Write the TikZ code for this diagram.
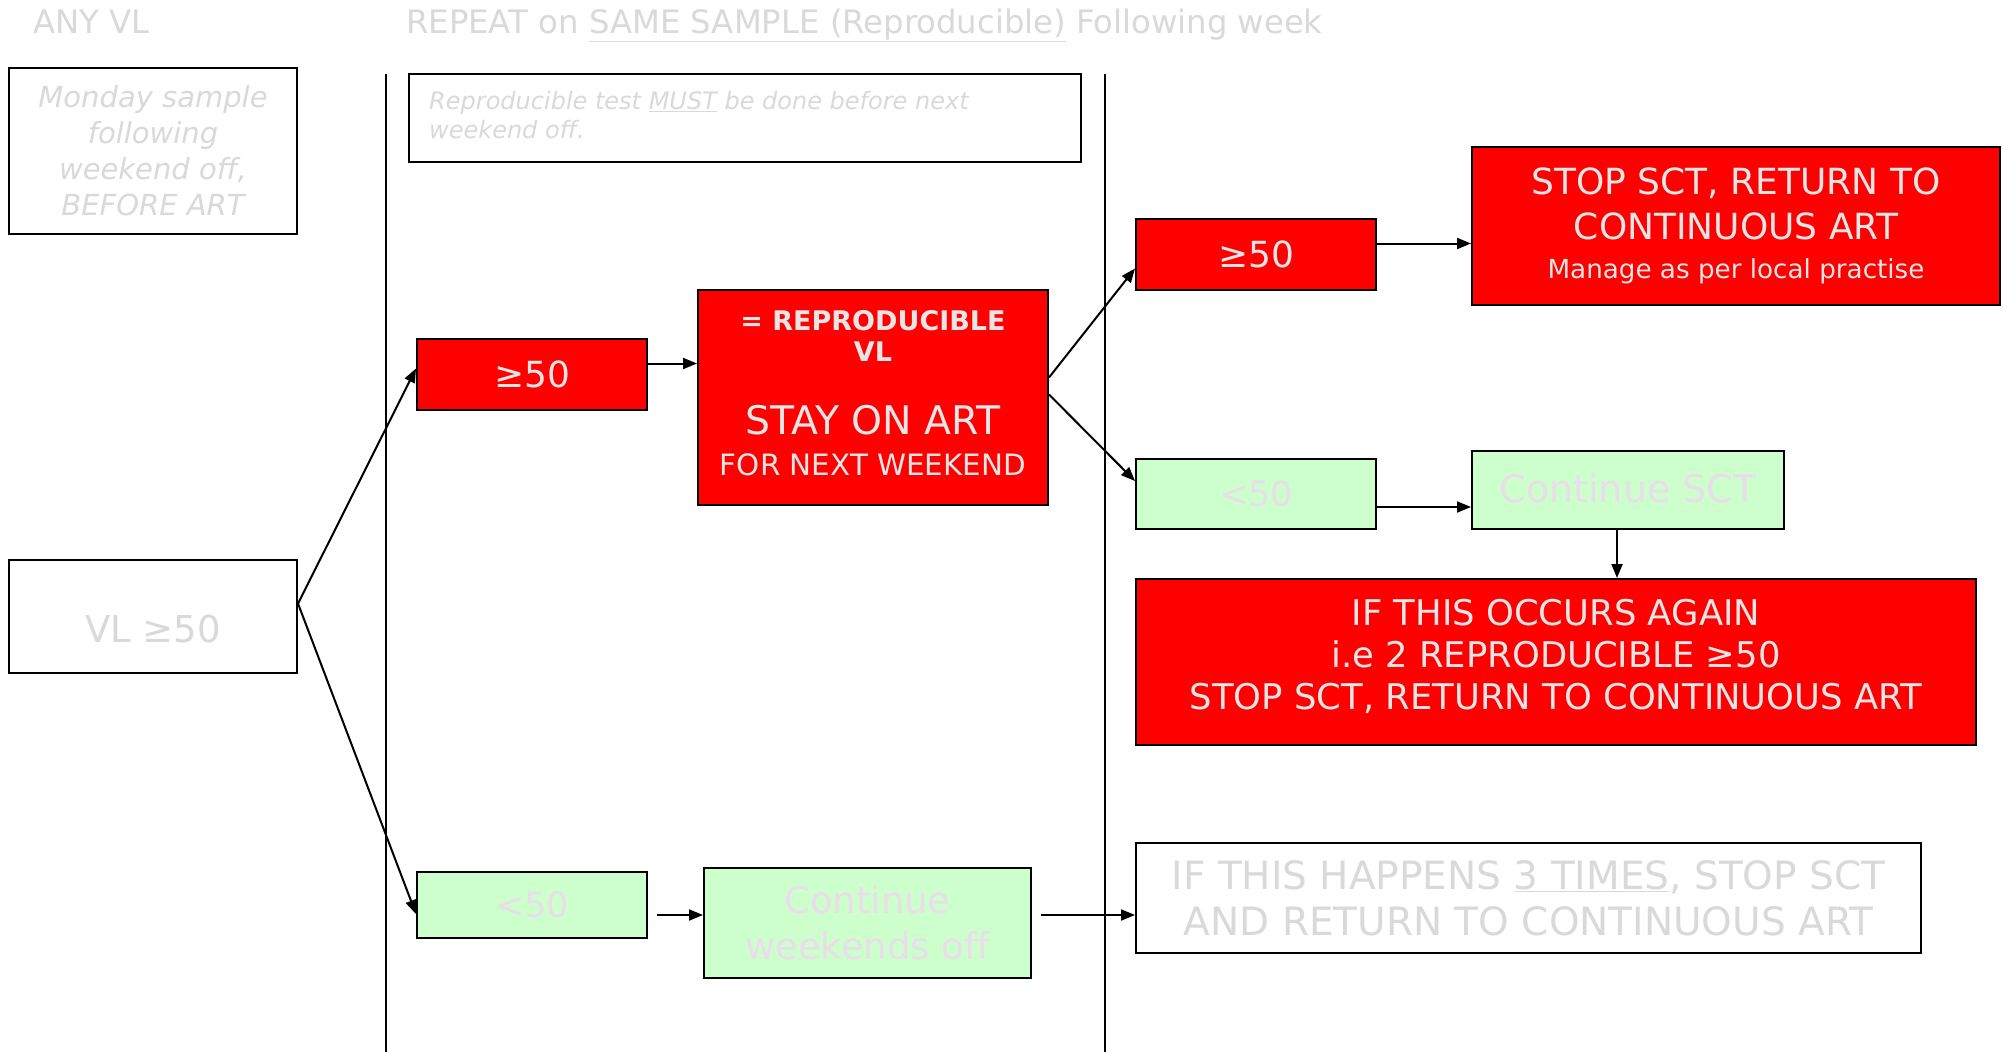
\documentclass[tikz,border=0pt]{standalone}
\usepackage{fontspec}
\setmainfont{DejaVu Sans}
\usetikzlibrary{arrows.meta,calc}
\definecolor{boxred}{HTML}{FF0000}
\definecolor{boxgreen}{HTML}{CCFFCC}
\definecolor{txtgrey}{HTML}{D9D9D9}
\definecolor{txtred}{HTML}{E6E6E6}
\definecolor{txtgreen}{HTML}{EADCEA}
\newcommand{\fs}[2]{\fontsize{#1}{#2}\selectfont}
\tikzset{
  base/.style={draw=black, line width=2pt, inner sep=0pt, align=center},
  whitebox/.style={base, fill=white, text=txtgrey},
  redbox/.style={base, fill=boxred, text=txtred},
  greenbox/.style={base, fill=boxgreen, text=txtgreen},
  conn/.style={line width=2pt, -{Triangle[length=14pt,width=11pt]}},
  divider/.style={line width=2pt},
  heading/.style={text=txtgrey, inner sep=0pt, anchor=base west, font=\fs{32.3}{38}},
}
\begin{document}
\begin{tikzpicture}[x=1pt,y=-1pt]
\useasboundingbox (0,0) rectangle (2004,1052);
\fill[white] (0,0) rectangle (2004,1052);
% dividers
\coordinate (d1t) at (386,74);
\coordinate (d1b) at (386,1052);
\coordinate (d2t) at (1105,74);
\coordinate (d2b) at (1105,1052);
\coordinate (vx) at (1617,0);
\draw[divider] (d1t) -- (d1b);
\draw[divider] (d2t) -- (d2b);
% headings
\node[heading] (h1) at (33,33) {ANY VL};
\node[heading] (h2) at (406,33) {REPEAT on \underline{SAME SAMPLE (Reproducible)} Following week};
% boxes
\node[whitebox, minimum width=288, minimum height=166, font=\fs{29}{36}\itshape] (monday) at (153,151) {Monday sample\\following\\weekend off,\\BEFORE ART};
\node[whitebox, minimum width=672, minimum height=88] (note) at (745,118) {};
\node[text=txtgrey, inner sep=0pt, anchor=north west, align=left, font=\fs{24}{29}\itshape] (notetext) at (429,91) {Reproducible test \underline{MUST} be done before next\\weekend off.};
\node[whitebox, minimum width=288, minimum height=113] (vl) at (153,616.5) {};
\node[text=txtgrey, inner sep=0pt, font=\fs{37}{44}] (vltext) at (153,629) {VL ≥50};
\node[redbox, minimum width=230, minimum height=71, font=\fs{36}{43}] (r1) at (532,374.5) {≥50};
\node[redbox, minimum width=350, minimum height=215, text depth=10pt, font=\fs{27}{31}\bfseries] (repro) at (873,397.5) {= REPRODUCIBLE\\VL\\[42pt]\fs{39.4}{31}\mdseries STAY ON ART\\[10pt]\fs{29.4}{31}\mdseries FOR NEXT WEEKEND};
\node[greenbox, minimum width=230, minimum height=66, font=\fs{35}{42}] (g1) at (532,905) {<50};
\node[greenbox, minimum width=327, minimum height=110, font=\fs{37}{46}] (cw) at (867.5,923) {Continue\\weekends off};
\node[redbox, minimum width=240, minimum height=71, font=\fs{36}{43}] (r2) at (1256,254.5) {≥50};
\node[redbox, minimum width=528, minimum height=158, font=\fs{36}{45}] (stop) at (1736,226) {STOP SCT, RETURN TO\\CONTINUOUS ART\\[-6pt]\fs{26.2}{33}Manage as per local practise};
\node[greenbox, minimum width=240, minimum height=70, font=\fs{35}{42}] (g2) at (1256,494) {<50};
\node[greenbox, minimum width=312, minimum height=78, font=\fs{38}{44}, text depth=4pt] (csct) at (1628,490) {Continue SCT};
\node[redbox, minimum width=840, minimum height=166, font=\fs{35.4}{42}, text depth=15pt] (again) at (1556,662) {IF THIS OCCURS AGAIN\\i.e 2 REPRODUCIBLE ≥50\\STOP SCT, RETURN TO CONTINUOUS ART};
\node[whitebox, minimum width=785, minimum height=110, font=\fs{39}{46}] (three) at (1528.5,898) {IF THIS HAPPENS \underline{3 TIMES}, STOP SCT\\AND RETURN TO CONTINUOUS ART};
% connectors
\draw[conn] ([yshift=13pt]vl.east) -- ([yshift=6pt]r1.west);
\draw[conn] ([yshift=13pt]vl.east) -- ([yshift=-9pt]g1.west);
\draw[conn] ([yshift=11pt]r1.east) -- ([yshift=11pt]r1.east -| repro.west);
\draw[conn] ([xshift=9pt,yshift=-10pt]g1.east) -- ([yshift=-10pt]g1.east -| cw.west);
\draw[conn] ([xshift=9pt,yshift=8pt]cw.east) -- ([yshift=8pt]cw.east -| three.west);
\draw[conn] ([yshift=20pt]repro.east) -- ([yshift=-14pt]r2.west);
\draw[conn] ([yshift=3pt]repro.east) -- ([yshift=13pt]g2.west);
\draw[conn] ([yshift=11pt]r2.east) -- ([yshift=11pt]r2.east -| stop.west);
\draw[conn] ([yshift=-13pt]g2.east) -- ([yshift=-13pt]g2.east -| csct.west);
\draw[conn] (csct.south -| vx) -- (again.north -| vx);
\end{tikzpicture}
\end{document}
